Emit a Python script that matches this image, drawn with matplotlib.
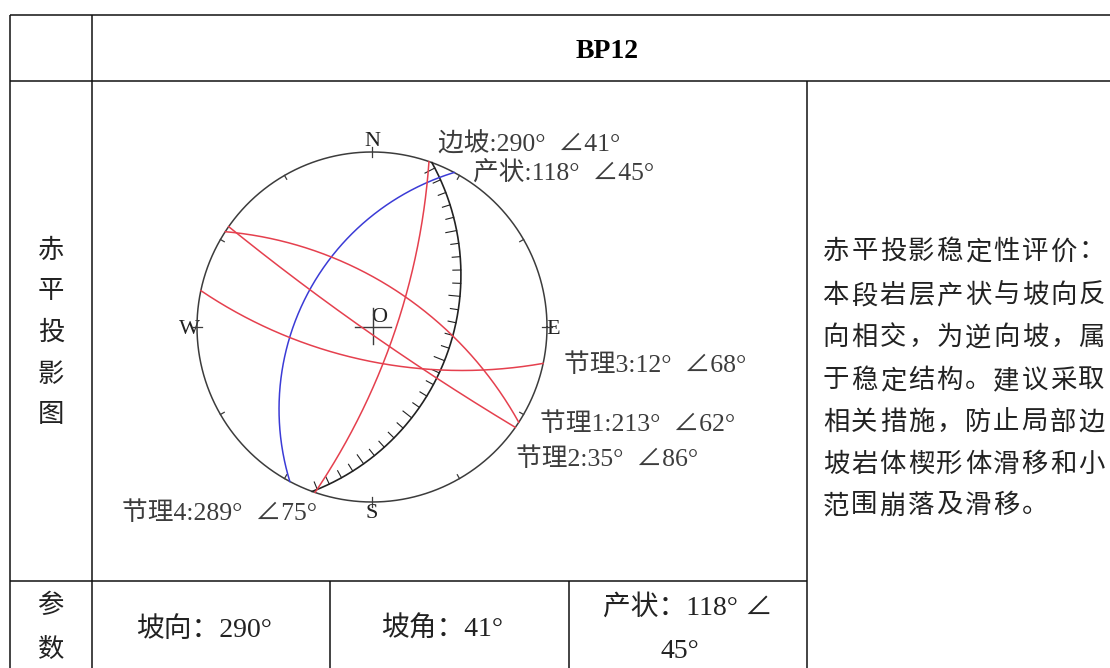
import matplotlib
matplotlib.use("Agg")
import matplotlib.pyplot as plt
import numpy as np

plt.rcParams['font.family'] = ['Liberation Serif', 'Noto Sans CJK SC', 'DejaVu Sans']

# plane data: dip direction / dip
joint_names = ['节理1', '节理2', '节理3', '节理4']
joint_dipdir = [213, 35, 12, 289]
joint_dip = [62, 86, 68, 75]
slope_dipdir = 290
slope_dip = 41
bed_dipdir = 118
bed_dip = 45

compass = ['N', 'E', 'S', 'W']
side_title = list('赤平投影图')
param_title = list('参数')
eval_lines = ['赤平投影稳定性评价：',
              '本段岩层产状与坡向反',
              '向相交，为逆向坡，属',
              '于稳定结构。建议采取',
              '相关措施，防止局部边',
              '坡岩体楔形体滑移和小',
              '范围崩落及滑移。']

W, H = 1110, 668
CX, CY, R = 372, 327, 175
RED = '#e5404e'
BLUE = '#3b3bd6'
DARK = '#3c3c3c'
INK = '#222222'


def great_circle(dipdir, dip, n=300):
    # upper hemisphere stereonet, unit circle, x east y north
    strike = np.radians(dipdir - 90)
    d = np.radians(dip)
    rake = np.linspace(0.0005, np.pi - 0.0005, n)
    e = np.sin(rake) * np.cos(d) * np.sin(strike + np.pi / 2) + np.cos(rake) * np.sin(strike)
    no = np.sin(rake) * np.cos(d) * np.cos(strike + np.pi / 2) + np.cos(rake) * np.cos(strike)
    up = np.sin(rake) * np.sin(d)
    # upper hemisphere means the trace bows away from the dip direction
    return -e / (1 + up), -no / (1 + up)


fig = plt.figure(figsize=(W / 100, H / 100), dpi=100)

# page layer in pixels
page = fig.add_axes([0, 0, 1, 1])
page.set_xlim(0, W)
page.set_ylim(H, 0)
page.axis('off')

# table rules
page.hlines([15, 81], 10, W, color='#111111', lw=1.1)
page.hlines(581, 10, 807, color='#111111', lw=1.1)
page.vlines([10, 92], 15, H, color='#111111', lw=1.1)
page.vlines(807, 81, H, color='#111111', lw=1.1)
page.vlines([330, 569], 581, H, color='#111111', lw=1.1)

page.text(607, 52, 'BP12', ha='center', va='center', fontsize=20, fontweight='bold', color='black')

for ch, y in zip(side_title, [251, 292, 333, 375, 416]):
    page.text(51, y, ch, ha='center', va='center', fontsize=19, color=INK)
for ch, y in zip(param_title, [606, 650]):
    page.text(51, y, ch, ha='center', va='center', fontsize=19, color=INK)

page.text(204, 630, f'坡向：{slope_dipdir}°', ha='center', va='center', fontsize=20, color=INK)
page.text(442, 630, f'坡角：{slope_dip}°', ha='center', va='center', fontsize=20, color=INK)
page.text(688, 608, f'产状：{bed_dipdir}° ∠', ha='center', va='center', fontsize=20, color=INK)
page.text(680, 652, f'{bed_dip}°', ha='center', va='center', fontsize=20, color=INK)

# evaluation paragraph, spaced out like justified text
for line, y in zip(eval_lines, [252, 296, 338, 381, 423, 465, 506]):
    for i, ch in enumerate(line):
        page.text(836 + i * 28.4, y, ch, ha='center', va='center', fontsize=19, color=INK)

# stereonet
net = fig.add_axes([(CX - R) / W, 1 - (CY + R) / H, 2 * R / W, 2 * R / H])
net.set_xlim(-1, 1)
net.set_ylim(-1, 1)
net.axis('off')

t = np.linspace(0, 2 * np.pi, 721)
net.plot(np.cos(t), np.sin(t), color=DARK, lw=1.1, clip_on=False)

# rim ticks every 30 degrees, compass ones stick out
for az in range(0, 360, 30):
    a = np.radians(az)
    r0, r1 = (1.0, 0.975) if az % 90 else (1.03, 0.97)
    net.plot([r0 * np.sin(a), r1 * np.sin(a)], [r0 * np.cos(a), r1 * np.cos(a)],
             color=DARK, lw=0.9, clip_on=False)

# centre cross
net.plot([-17 / R, 19 / R], [0, 0], color=DARK, lw=1.0)
net.plot([1 / R, 1 / R], [19 / R, -17 / R], color=DARK, lw=1.0)

# slope with hatch on the inner side
sx, sy = great_circle(slope_dipdir, slope_dip, 800)
net.plot(sx, sy, color='#222222', lw=1.2, clip_on=False)
seg = np.r_[0, np.cumsum(np.hypot(np.diff(sx), np.diff(sy)))]
n_hatch = int(seg[-1] * R / 13)
for k, s in enumerate(np.linspace(seg[-1] * 0.015, seg[-1] * 0.985, n_hatch)):
    i = min(np.searchsorted(seg, s), len(sx) - 2)
    dx, dy = sx[i + 1] - sx[i], sy[i + 1] - sy[i]
    norm = np.hypot(dx, dy)
    nx, ny = -dy / norm, dx / norm
    # always point towards the west side of the trace
    if nx > 0:
        nx, ny = -nx, -ny
    size = (11 if k % 5 == 0 else 8) / R
    net.plot([sx[i], sx[i] + nx * size], [sy[i], sy[i] + ny * size], color='#222222', lw=0.8)

# bedding and joints
bx, by = great_circle(bed_dipdir, bed_dip)
net.plot(bx, by, color=BLUE, lw=1.1)
for dd, dp in zip(joint_dipdir, joint_dip):
    jx, jy = great_circle(dd, dp)
    net.plot(jx, jy, color=RED, lw=1.1)

# labels on the net
for name, (x, y) in zip(compass, [(372, 141), (553, 330), (372, 513), (189, 330)]):
    page.text(x, y, name, ha='center', va='center', fontsize=16, color=INK, zorder=5)
page.text(379, 317, 'O', ha='center', va='center', fontsize=16, color=INK, zorder=5)


def plane_label(x, y, name, dd, dp):
    page.text(x, y, f'{name}:{dd}°  ∠{dp}°', ha='left', va='center', fontsize=18.5, color=DARK, zorder=5)


plane_label(438, 144, '边坡', slope_dipdir, slope_dip)
plane_label(473, 174, '产状', bed_dipdir, bed_dip)
plane_label(564, 365, joint_names[2], joint_dipdir[2], joint_dip[2])
plane_label(540, 424, joint_names[0], joint_dipdir[0], joint_dip[0])
plane_label(516, 459, joint_names[1], joint_dipdir[1], joint_dip[1])
plane_label(122, 513, joint_names[3], joint_dipdir[3], joint_dip[3])

fig.savefig('out.png', dpi=100)
